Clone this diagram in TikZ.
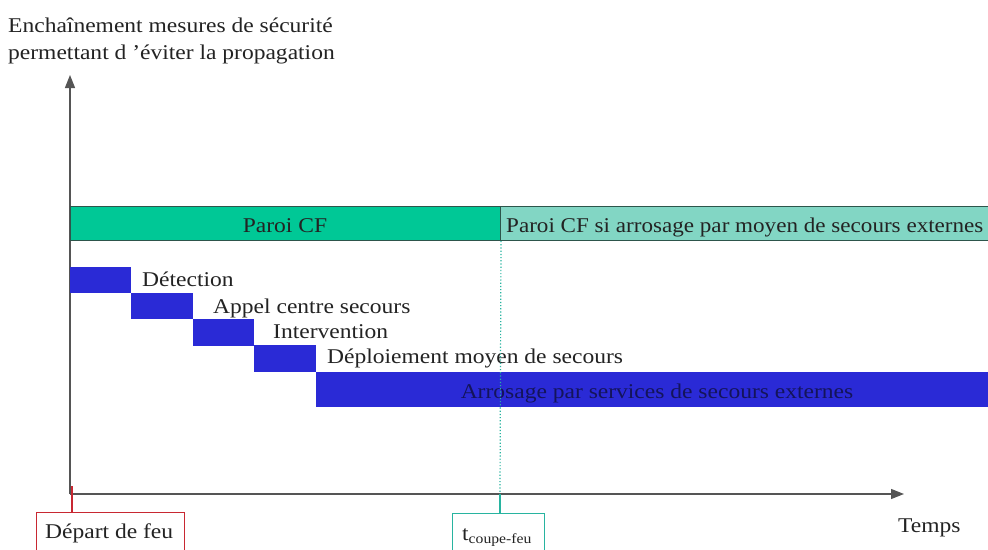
\documentclass[tikz,border=0pt]{standalone}
\usepackage{fontspec}
\setmainfont{Liberation Serif}[FakeStretch=1.12]
\newfontfamily\narrowserif{Liberation Serif}[FakeStretch=1.10]
\usetikzlibrary{arrows.meta}
\definecolor{greenbar}{RGB}{0,200,150}
\definecolor{lightbar}{RGB}{130,214,196}
\definecolor{barborder}{RGB}{45,85,75}
\definecolor{blueblk}{RGB}{42,42,214}
\definecolor{navytext}{RGB}{20,20,90}
\definecolor{tealline}{RGB}{40,180,160}
\definecolor{axisgray}{RGB}{85,85,85}
\definecolor{redline}{RGB}{200,40,50}
\definecolor{txtcol}{RGB}{35,35,35}
\begin{document}
\begin{tikzpicture}[x=1pt,y=-1pt,
  lbl/.style={font=\fontsize{21}{24}\selectfont, inner sep=0pt, text=txtcol},
  greenbox/.style={draw=barborder, line width=1pt, fill=greenbar, inner sep=0pt, anchor=north west},
  lightbox/.style={draw=barborder, line width=1pt, fill=lightbar, inner sep=0pt, anchor=north west},
  bluebox/.style={fill=blueblk, inner sep=0pt, anchor=north west},
  axisline/.style={draw=axisgray, line width=1.3pt, -{Triangle[length=13pt,width=10pt]}},
  markbox/.style={draw=#1, line width=1pt, fill=white, inner sep=0pt, anchor=north west}
]
\clip (0,0) rectangle (988,549);
\fill[white] (0,0) rectangle (988,549);

% y axis label
\node[lbl, anchor=base west] (ylab1) at (8,32) {Enchaînement mesures de sécurité};
\node[lbl, anchor=base west] (ylab2) at (8,59) {permettant d 'éviter la propagation};

% axes
\coordinate (O) at (70,494);
\coordinate (ytip) at (70,75);
\coordinate (xtip) at (904,494);
\draw[axisline] (O) -- (ytip);
\draw[axisline] (O) -- (xtip);
\node[lbl, anchor=base west] (temps) at (898,532) {Temps};

% green bars
\node[greenbox, minimum width=430pt, minimum height=34pt] (paroi) at (70,206) {};
\node[lbl, anchor=base] (paroitxt) at (285,232) {Paroi CF};
\node[lightbox, minimum width=520pt, minimum height=34pt] (paroiext) at (500,206) {};
\node[lbl, anchor=base west, font=\fontsize{21}{24}\narrowserif] (paroiexttxt) at (506,232) {Paroi CF si arrosage par moyen de secours externes};

% blue steps
\node[bluebox, minimum width=61pt, minimum height=26pt] (d1) at (70,267) {};
\node[bluebox, minimum width=62pt, minimum height=26pt] (d2) at (131,293) {};
\node[bluebox, minimum width=61pt, minimum height=27pt] (d3) at (193,319) {};
\node[bluebox, minimum width=62pt, minimum height=27pt] (d4) at (254,345) {};
\node[bluebox, minimum width=682pt, minimum height=35pt] (d5) at (316,372) {};
\node[lbl, anchor=base west] (t1) at (142,286) {Détection};
\node[lbl, anchor=base west] (t2) at (213,313) {Appel centre secours};
\node[lbl, anchor=base west] (t3) at (273,338) {Intervention};
\node[lbl, anchor=base west] (t4) at (327,363) {Déploiement moyen de secours};
\node[lbl, anchor=base, text=navytext] (t5) at (657,398) {Arrosage par services de secours externes};

% markers on time axis
\node[markbox=redline, minimum width=148pt, minimum height=50pt] (depart) at (36,512) {};
\node[lbl, anchor=base west] (departtxt) at (45,538) {Départ de feu};
\draw[redline, line width=2pt] (72,486) -- (depart.north -| 72,0);

\node[markbox=tealline, minimum width=92pt, minimum height=50pt] (tcf) at (452,513) {};
\node[lbl, anchor=base west] (tcftxt) at (462,540) {t\textsubscript{\fontsize{14}{16}\selectfont coupe-feu}};
\coordinate (tcfaxis) at (500,494);
\draw[tealline, line width=1.2pt, dotted] (paroi.south east) -- (tcfaxis);
\draw[tealline, line width=1.3pt] (tcfaxis) -- (tcf.north -| tcfaxis);
\end{tikzpicture}
\end{document}
